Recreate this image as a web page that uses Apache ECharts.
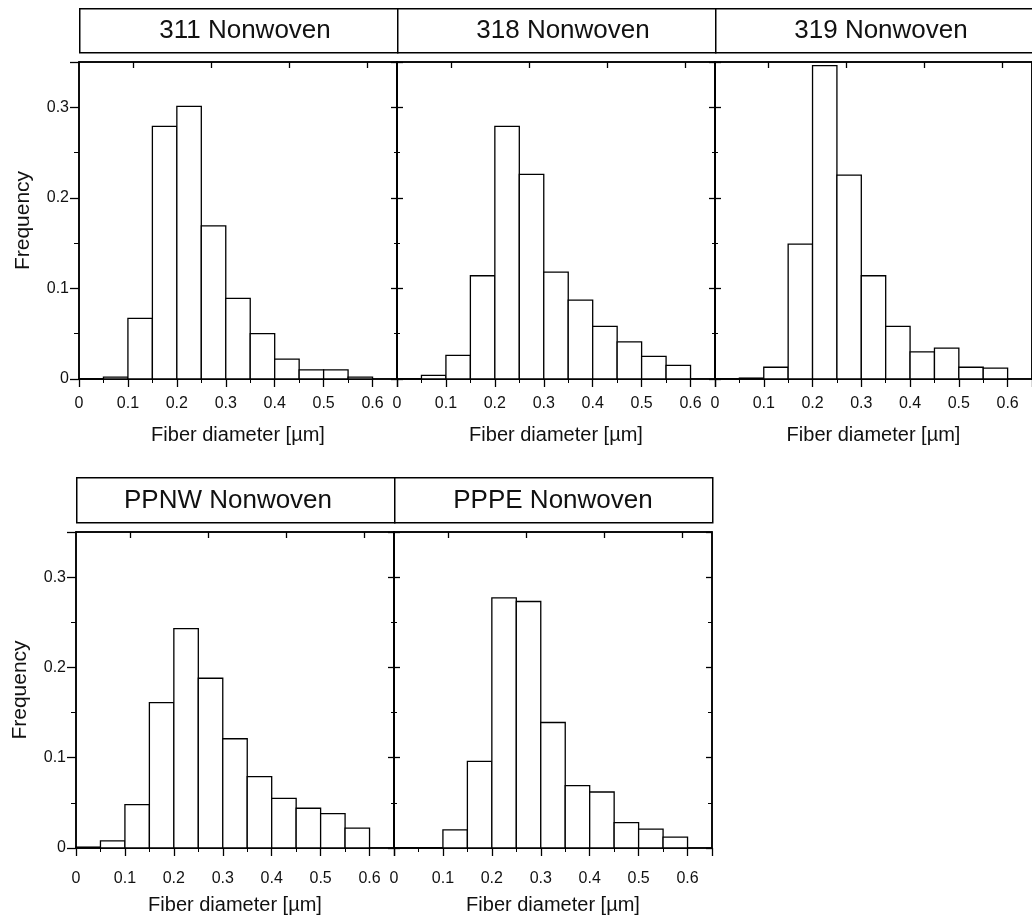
<!DOCTYPE html>
<html>
<head>
<meta charset="utf-8">
<script src="https://cdn.jsdelivr.net/npm/echarts@6/dist/echarts.min.js"></script>
<style>
  html, body { margin: 0; padding: 0; background: #fff; }
  #chart { width: 1032px; height: 916px; }
</style>
</head>
<body>
<div id="chart"></div>
<script>
// ---- data ----
const panelNames = ['311 Nonwoven', '318 Nonwoven', '319 Nonwoven', 'PPNW Nonwoven', 'PPPE Nonwoven'];
const binStarts = [0, 0.05, 0.10, 0.15, 0.20, 0.25, 0.30, 0.35, 0.40, 0.45, 0.50, 0.55];
const binWidth = 0.05;
const freq311  = [0, 0.002, 0.067, 0.279, 0.301, 0.169, 0.089, 0.050, 0.022, 0.010, 0.010, 0.002];
const freq318  = [0, 0.004, 0.026, 0.114, 0.279, 0.226, 0.118, 0.087, 0.058, 0.041, 0.025, 0.015];
const freq319  = [0, 0.001, 0.013, 0.149, 0.346, 0.225, 0.114, 0.058, 0.030, 0.034, 0.013, 0.012];
const freqPPNW = [0.001, 0.008, 0.048, 0.161, 0.243, 0.188, 0.121, 0.079, 0.055, 0.044, 0.038, 0.022];
const freqPPPE = [0, 0, 0.020, 0.096, 0.277, 0.273, 0.139, 0.069, 0.062, 0.028, 0.021, 0.012];
const panelFreqs = [freq311, freq318, freq319, freqPPNW, freqPPPE];
const topTickValues = [0.11, 0.27, 0.43, 0.59];
const xLabel = 'Fiber diameter [\u00b5m]';
const yLabel = 'Frequency';

// ---- layout ----
const X_MAX = 0.65;
const FONT = "'Liberation Sans', Arial, Helvetica, sans-serif";
const titleShift = [7, 7, 7, -7, 0];
const rows = [
  { top: 62, height: 317, lefts: [79, 397, 715], width: 318, boxTop: 8, boxH: 44, labelMargin: 17, nameGap: 46 },
  { top: 532, height: 317, lefts: [76, 394], width: 318, boxTop: 477, boxH: 45, labelMargin: 23, nameGap: 47 }
];
const panels = [];
rows.forEach((r, ri) => r.lefts.forEach((l, ci) => panels.push({ row: r, ri, ci, left: l, last: ci === r.lefts.length - 1 })));

const grid = [], xAxis = [], yAxis = [], series = [], graphic = [];
const black = '#000';

panels.forEach((p, i) => {
  const r = p.row;
  grid.push({ left: p.left, top: r.top, width: r.width, height: r.height, show: true,
    borderColor: black, borderWidth: 1.5, backgroundColor: 'transparent', containLabel: false });

  const xb = xAxis.length;
  xAxis.push({
    type: 'value', gridIndex: i, position: 'bottom', min: 0, max: X_MAX, interval: 0.1,
    axisLine: { show: true, onZero: false, lineStyle: { color: black, width: 1.5 } },
    axisTick: { show: true, inside: false, length: 8, lineStyle: { color: black, width: 1.3 } },
    minorTick: { show: true, splitNumber: 2, length: 4, lineStyle: { color: black, width: 1 } },
    splitLine: { show: false }, minorSplitLine: { show: false },
    axisLabel: { show: true, margin: r.labelMargin, fontSize: 16, color: '#111', fontFamily: FONT, showMaxLabel: false },
    name: xLabel, nameLocation: 'middle', nameGap: r.nameGap,
    nameTextStyle: { fontSize: 20, color: '#111', fontFamily: FONT }
  });
  xAxis.push({
    type: 'value', gridIndex: i, position: 'top', min: 0, max: X_MAX,
    axisLine: { show: true, onZero: false, lineStyle: { color: black, width: 1.5 } },
    axisTick: { show: true, inside: true, length: 6, customValues: topTickValues,
      lineStyle: { color: black, width: 1.3 } },
    axisLabel: { show: false, customValues: topTickValues }, splitLine: { show: false }
  });

  const yl = yAxis.length;
  const first = p.ci === 0;
  yAxis.push({
    type: 'value', gridIndex: i, position: 'left', min: 0, max: 0.35, interval: 0.1,
    axisLine: { show: true, onZero: false, lineStyle: { color: black, width: 1.5 } },
    axisTick: { show: true, inside: false, length: first ? 9 : 6, lineStyle: { color: black, width: 1.3 } },
    minorTick: { show: true, splitNumber: 2, length: first ? 5 : 3, lineStyle: { color: black, width: 1 } },
    splitLine: { show: false }, minorSplitLine: { show: false },
    axisLabel: { show: first, margin: 10, fontSize: 16, color: '#111', fontFamily: FONT, showMaxLabel: false },
    name: first ? yLabel : '', nameLocation: 'middle', nameGap: 45,
    nameTextStyle: { fontSize: 21, color: '#111', fontFamily: FONT }
  });
  const lastBottom = p.last && p.ri === 1;
  yAxis.push({
    type: 'value', gridIndex: i, position: 'right', min: 0, max: 0.35, interval: 0.1,
    axisLine: { show: true, onZero: false, lineStyle: { color: black, width: 1.5 } },
    axisTick: { show: true, inside: lastBottom, length: 6, lineStyle: { color: black, width: 1.3 } },
    minorTick: { show: true, splitNumber: 2, length: lastBottom ? 4 : 3, lineStyle: { color: black, width: 1 } },
    splitLine: { show: false }, minorSplitLine: { show: false },
    axisLabel: { show: false }
  });

  const data = binStarts.map((s, k) => [s, s + binWidth, panelFreqs[i][k]]);
  series.push({
    type: 'custom', xAxisIndex: xb, yAxisIndex: yl,
    encode: { x: [0, 1], y: 2 },
    data: data,
    renderItem: function (params, api) {
      const x0 = api.value(0), x1 = api.value(1), y = api.value(2);
      const a = api.coord([x0, y]);
      const b = api.coord([x1, 0]);
      return {
        type: 'rect',
        shape: { x: a[0], y: a[1], width: b[0] - a[0], height: b[1] - a[1] },
        style: { fill: '#fff', stroke: black, lineWidth: 1.3 }
      };
    },
    silent: true, animation: false
  });

  // title box
  graphic.push({
    type: 'rect', left: p.left, top: r.boxTop,
    shape: { x: 0, y: 0, width: r.width, height: r.boxH },
    style: { fill: '#fff', stroke: black, lineWidth: 1.5 }, silent: true
  });
  graphic.push({
    type: 'text', x: p.left + r.width / 2 + titleShift[i], y: r.boxTop + r.boxH / 2 + 1,
    style: { text: panelNames[i], font: "26px " + FONT, fill: '#111',
      align: 'center', verticalAlign: 'middle', textAlign: 'center', textVerticalAlign: 'middle' },
    silent: true
  });
});

const chart = echarts.init(document.getElementById('chart'), null, { renderer: 'canvas' });
chart.setOption({
  backgroundColor: '#fff',
  animation: false,
  textStyle: { fontFamily: FONT },
  grid: grid, xAxis: xAxis, yAxis: yAxis, series: series, graphic: graphic
});
</script>
</body>
</html>
